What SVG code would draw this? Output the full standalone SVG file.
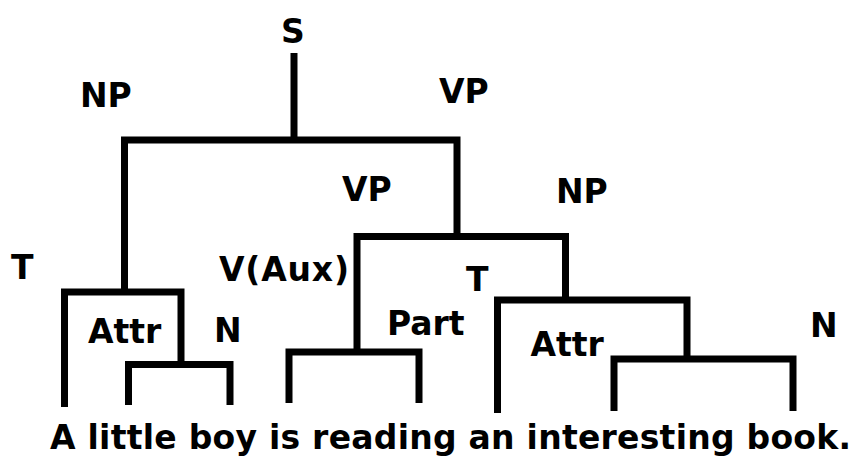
<svg xmlns="http://www.w3.org/2000/svg" width="858" height="456" viewBox="0 0 858 456">
  <style>
    .edge { fill: none; stroke: #000; stroke-width: 7; stroke-linejoin: miter; stroke-linecap: butt; }
    .lbl { font-family: "DejaVu Sans", Verdana, sans-serif; font-weight: bold; font-size: 33px; fill: #000; }
  </style>
  <rect width="858" height="456" fill="#fff"/>

  <!-- tree branches -->
  <g id="connectors">
    <path class="edge" d="M294,53 V140"/>
    <path class="edge" d="M124.5,292 V140 H457 V236.5"/>
    <path class="edge" d="M64.5,407 V292 H181 V364.5"/>
    <path class="edge" d="M128.5,405 V364.5 H230 V405"/>
    <path class="edge" d="M357,352 V236.5 H565.5 V300"/>
    <path class="edge" d="M289,403 V352 H419 V403"/>
    <path class="edge" d="M497.5,413 V300 H687 V359"/>
    <path class="edge" d="M614,411 V359 H793 V411"/>
  </g>

  <!-- category labels -->
  <g id="node-s"><text class="lbl" x="281" y="42.5">S</text></g>
  <g id="node-np-subject"><text class="lbl" x="80" y="106.5">NP</text></g>
  <g id="node-vp-top"><text class="lbl" x="439" y="103">VP</text></g>
  <g id="node-vp-inner"><text class="lbl" x="342" y="201">VP</text></g>
  <g id="node-np-object"><text class="lbl" x="556" y="203">NP</text></g>
  <g id="node-t-subject"><text class="lbl" x="11" y="279">T</text></g>
  <g id="node-v-aux"><text class="lbl" x="219" y="281" textLength="130" lengthAdjust="spacing">V(Aux)</text></g>
  <g id="node-attr-subject"><text class="lbl" x="88" y="343">Attr</text></g>
  <g id="node-n-subject"><text class="lbl" x="214" y="342">N</text></g>
  <g id="node-part"><text class="lbl" x="387" y="335">Part</text></g>
  <g id="node-t-object"><text class="lbl" x="466" y="291">T</text></g>
  <g id="node-attr-object"><text class="lbl" x="530.5" y="356">Attr</text></g>
  <g id="node-n-object"><text class="lbl" x="810" y="337">N</text></g>

  <!-- sentence -->
  <g id="sentence">
    <text class="lbl" x="50" y="449" textLength="801" lengthAdjust="spacing">A little boy is reading an interesting book.</text>
  </g>
</svg>
